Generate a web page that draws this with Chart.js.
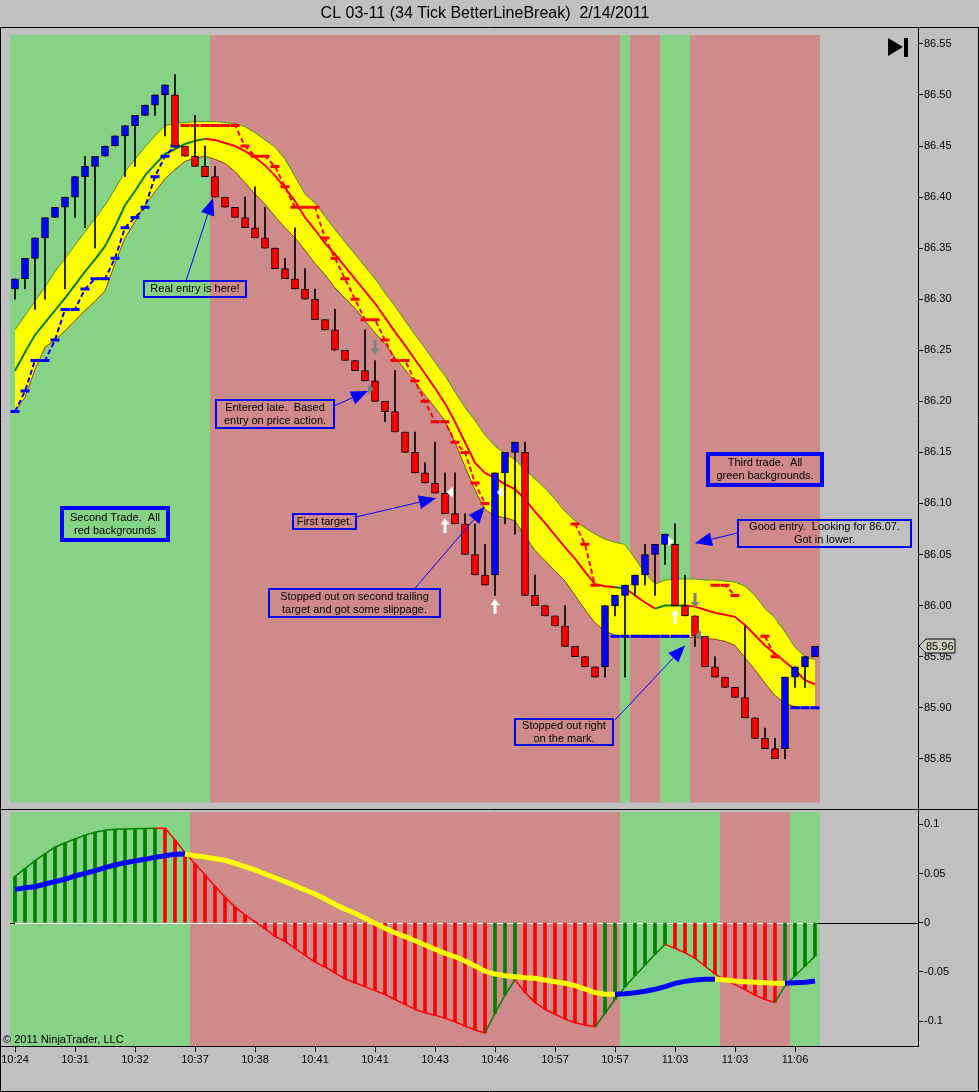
<!DOCTYPE html>
<html>
<head>
<meta charset="utf-8">
<script src="https://cdn.jsdelivr.net/npm/chart.js@4.4.1/dist/chart.umd.min.js"></script>
<style>
  html, body { margin: 0; padding: 0; background: #c0c0c0; }
  #wrap { position: relative; width: 979px; height: 1092px; }
  #priceChart { position: absolute; left: 0; top: 0; width: 979px; height: 810px; }
  #oscChart { position: absolute; left: 0; top: 810px; width: 979px; height: 282px; }
</style>
</head>
<body>
<div id="wrap">
  <canvas id="priceChart" width="979" height="810"></canvas>
  <canvas id="oscChart" width="979" height="282"></canvas>
</div>
<script>
// ---- data (one entry per line-break bar, 81 bars) ----
const timeLabels = ['10:24','10:31','10:32','10:37','10:38','10:41','10:41','10:43','10:46','10:57','10:57','11:03','11:03','11:06'];
const priceTicks = [86.55,86.50,86.45,86.40,86.35,86.30,86.25,86.20,86.15,86.10,86.05,86.00,85.95,85.90,85.85];
const oscTicks = [0.1, 0.05, 0, -0.05, -0.1];

const opens = [86.31,86.32,86.34,86.36,86.38,86.39,86.40,86.42,86.43,86.44,86.45,86.46,86.47,86.48,86.49,86.50,
  86.50,86.45,86.44,86.43,86.42,86.40,86.39,86.38,86.37,86.36,86.35,86.33,86.32,86.31,86.30,86.28,86.27,86.25,86.24,
  86.23,86.22,86.20,86.19,86.17,86.15,86.13,86.12,86.11,86.09,86.08,86.05,86.03,86.03,86.13,86.15,86.15,86.01,86.00,
  85.99,85.98,85.96,85.95,85.94,85.94,86.00,86.01,86.02,86.03,86.05,86.06,86.06,86.00,85.99,85.97,85.94,85.93,85.92,
  85.91,85.89,85.87,85.86,85.86,85.93,85.94,85.95];
const highs = [86.32,86.34,86.36,86.38,86.39,86.40,86.42,86.44,86.44,86.45,86.46,86.47,86.48,86.49,86.50,86.51,
  86.52,86.45,86.48,86.45,86.43,86.40,86.39,86.40,86.41,86.39,86.35,86.34,86.37,86.33,86.31,86.28,86.29,86.25,86.24,
  86.27,86.24,86.20,86.23,86.17,86.17,86.14,86.16,86.13,86.13,86.09,86.08,86.06,86.13,86.15,86.16,86.16,86.03,86.00,
  85.99,86.00,85.96,85.95,85.94,86.00,86.01,86.02,86.03,86.06,86.06,86.07,86.08,86.03,85.99,85.97,85.95,85.93,85.92,
  85.98,85.89,85.88,85.87,85.93,85.94,85.95,85.96];
const lows = [86.30,86.31,86.29,86.30,86.38,86.31,86.38,86.37,86.35,86.44,86.45,86.42,86.43,86.48,86.48,86.46,
  86.45,86.44,86.43,86.42,86.40,86.39,86.38,86.37,86.36,86.35,86.33,86.32,86.31,86.30,86.28,86.27,86.25,86.24,86.23,
  86.22,86.20,86.18,86.17,86.15,86.13,86.12,86.11,86.09,86.08,86.05,86.03,86.02,86.01,86.08,86.07,86.01,86.00,85.99,
  85.98,85.96,85.95,85.94,85.93,85.93,85.99,85.93,86.01,86.02,86.01,86.04,86.00,85.99,85.96,85.94,85.93,85.92,85.91,
  85.89,85.87,85.86,85.85,85.85,85.92,85.92,85.95];
const closes = [86.32,86.34,86.36,86.38,86.39,86.40,86.42,86.43,86.44,86.45,86.46,86.47,86.48,86.49,86.50,86.51,
  86.45,86.44,86.43,86.42,86.40,86.39,86.38,86.37,86.36,86.35,86.33,86.32,86.31,86.30,86.28,86.27,86.25,86.24,86.23,
  86.22,86.20,86.19,86.17,86.15,86.13,86.12,86.11,86.09,86.08,86.05,86.03,86.02,86.13,86.15,86.16,86.01,86.00,85.99,
  85.98,85.96,85.95,85.94,85.93,86.00,86.01,86.02,86.03,86.05,86.06,86.07,86.00,85.99,85.97,85.94,85.93,85.92,85.91,
  85.89,85.87,85.86,85.85,85.93,85.94,85.95,85.96];

const bandUpper = [86.270,86.284,86.298,86.312,86.327,86.340,86.353,86.366,86.379,86.392,86.408,86.425,86.437,86.449,
  86.460,86.470,86.472,86.473,86.474,86.474,86.474,86.473,86.472,86.469,86.463,86.456,86.449,86.437,86.420,86.403,
  86.394,86.381,86.368,86.356,86.344,86.332,86.320,86.306,86.293,86.279,86.265,86.252,86.238,86.225,86.209,86.194,
  86.181,86.167,86.156,86.149,86.143,86.133,86.124,86.115,86.104,86.092,86.083,86.076,86.070,86.065,86.062,86.060,
  86.046,86.032,86.021,86.025,86.026,86.026,86.026,86.025,86.025,86.024,86.023,86.019,86.010,85.997,85.988,85.974,
  85.959,85.950,85.947];
const bandLower = [86.190,86.204,86.231,86.253,86.260,86.269,86.279,86.289,86.298,86.308,86.335,86.360,86.376,86.392,
  86.405,86.418,86.427,86.435,86.438,86.440,86.437,86.433,86.425,86.414,86.403,86.393,86.381,86.370,86.360,86.348,
  86.335,86.324,86.311,86.301,86.291,86.279,86.267,86.256,86.243,86.231,86.219,86.206,86.194,86.181,86.160,86.136,
  86.113,86.094,86.088,86.086,86.083,86.068,86.054,86.044,86.034,86.024,86.010,85.996,85.983,85.975,85.971,85.969,
  85.969,85.969,85.969,85.969,85.969,85.969,85.969,85.968,85.967,85.965,85.961,85.949,85.937,85.924,85.912,85.904,
  85.901,85.900,85.900];
const middle = [86.230,86.248,86.265,86.277,86.289,86.301,86.314,86.327,86.339,86.352,86.371,86.392,86.406,86.421,
  86.432,86.442,86.447,86.452,86.455,86.457,86.456,86.453,86.450,86.445,86.439,86.431,86.421,86.409,86.396,86.380,
  86.368,86.355,86.344,86.332,86.320,86.308,86.296,86.282,86.268,86.255,86.241,86.227,86.213,86.198,86.180,86.160,
  86.140,86.130,86.125,86.119,86.114,86.104,86.092,86.081,86.069,86.057,86.046,86.033,86.021,86.019,86.018,86.017,
  86.010,86.003,85.997,86.000,86.000,86.000,85.999,85.996,85.993,85.991,85.989,85.981,85.971,85.961,85.953,85.945,
  85.937,85.927,85.923];
const N = null;
const stopLong = [86.19,86.21,86.24,86.24,86.26,86.29,86.29,86.31,86.32,86.32,86.34,86.37,86.38,86.39,86.42,86.44,
  86.45,N,N,N,N,N,N,N,N,N,N,N,N,N,N,N,N,N,N,N,N,N,N,N,N,N,N,N,N,N,N,N,N,N,N,N,N,N,N,N,N,N,N,N,
  85.97,85.97,85.97,85.97,85.97,85.97,85.97,85.97,N,N,N,N,N,N,N,N,N,N,85.90,85.90,85.90];
const stopShort = [N,N,N,N,N,N,N,N,N,N,N,N,N,N,N,N,N,
  86.47,86.47,86.47,86.47,86.47,86.47,86.45,86.44,86.44,86.43,86.41,86.39,86.39,86.39,86.36,86.34,86.32,86.30,86.28,
  86.28,86.26,86.24,86.24,86.22,86.20,86.18,86.18,86.16,86.15,86.12,86.10,N,N,N,N,N,N,N,N,86.08,86.06,86.02,
  N,N,N,N,N,N,N,N,N,N,N,86.02,86.02,86.01,N,N,85.97,85.95,N,N,N,N];

// trend state zones (bar ranges) for the coloured backgrounds
const priceZones = [[-0.5,19.5,'up'],[19.5,60.5,'dn'],[60.5,61.5,'up'],[61.5,64.5,'dn'],[64.5,67.5,'up'],[67.5,80.5,'dn']];
const oscZones = [[-0.5,17.5,'up'],[17.5,60.5,'dn'],[60.5,70.5,'up'],[70.5,77.5,'dn'],[77.5,80.5,'up']];

// execution markers
const targetArrows = [{x:43,y:86.078},{x:48,y:85.999},{x:66,y:85.989}];
const stopArrows = [{x:36,y:86.253},{x:68,y:86.005}];
const fillsLeftWhite = [{x:43.45,y:86.111},{x:48.45,y:86.111}];
const fillsRightWhite = [{x:65.6,y:86.063}];
const fillsRightGray = [{x:35.6,y:86.212}];
const fillsLeftGray = [{x:68.3,y:85.971}];

const histValues = [0.047,0.055,0.063,0.070,0.077,0.081,0.085,0.089,0.092,0.094,0.095,0.0953,0.0956,0.0958,0.096,
  0.0959,0.084,0.071,0.060,0.0485,0.037,0.026,0.016,0.008,0.001,-0.006,-0.014,-0.019,-0.026,-0.033,-0.040,-0.045,
  -0.051,-0.057,-0.061,-0.065,-0.069,-0.073,-0.078,-0.083,-0.088,-0.0915,-0.094,-0.097,-0.1006,-0.105,-0.109,-0.112,
  -0.092,-0.0735,-0.058,-0.071,-0.081,-0.088,-0.093,-0.098,-0.1016,-0.104,-0.1057,-0.092,-0.078,-0.065,-0.054,-0.043,
  -0.032,-0.022,-0.026,-0.0305,-0.036,-0.044,-0.052,-0.058,-0.063,-0.068,-0.0735,-0.078,-0.081,-0.064,-0.054,-0.044,-0.034];
const signalValues = [0.0339,0.0356,0.0366,0.0393,0.0417,0.0441,0.0475,0.0502,0.0528,0.0559,0.0586,0.0610,0.0627,
  0.0644,0.0664,0.0681,0.0695,0.0698,0.0681,0.0668,0.0650,0.0634,0.0603,0.0569,0.0536,0.0495,0.0457,0.0417,0.0376,
  0.0332,0.0292,0.0241,0.0187,0.0136,0.0096,0.0045,-0.0006,-0.0057,-0.0102,-0.0142,-0.0183,-0.0227,-0.0270,-0.0311,
  -0.0346,-0.0389,-0.0440,-0.0493,-0.0522,-0.0539,-0.0549,-0.0559,-0.0565,-0.0582,-0.0600,-0.0616,-0.0640,-0.0674,
  -0.0711,-0.0728,-0.0728,-0.0721,-0.0711,-0.0697,-0.0677,-0.0650,-0.0616,-0.0596,-0.0582,-0.0575,-0.0575,-0.0582,
  -0.0592,-0.0600,-0.0606,-0.0610,-0.0616,-0.0616,-0.0610,-0.0606,-0.0592];

// text notes drawn on the price panel (anchors in bar / price units, box size in px)
const notes = [
  {lines:['Real entry is here!'], at:[18.0,86.310], size:[104,18], from:[17.1,86.318], to:[19.8,86.399]},
  {lines:['Entered late.  Based','entry on price action.'], at:[26.0,86.188], size:[120,30], from:[32.0,86.196], to:[35.3,86.210]},
  {lines:['First target.'], at:[30.95,86.082], size:[65,17], from:[34.2,86.087], to:[42.1,86.105]},
  {lines:['Stopped out on second trailing','target and got some slippage.'], at:[33.95,86.003], size:[173,30], from:[40.0,86.017], to:[47.0,86.097]},
  {lines:['Second Trade.  All','red backgrounds'], at:[10.0,86.080], size:[110,36], thick:true},
  {lines:['Third trade.  All','green backgrounds.'], at:[75.0,86.133], size:[118,35], thick:true},
  {lines:['Good entry.  Looking for 86.07.','Got in lower.'], at:[80.95,86.071], size:[175,29], from:[72.2,86.071], to:[68.0,86.061]},
  {lines:['Stopped out right','on the mark.'], at:[54.9,85.876], size:[100,28], from:[60.0,85.888], to:[67.0,85.961]}
];

// ---- styling ----
const FONT = '"Liberation Sans", Arial, sans-serif';
Chart.defaults.font.family = FONT;
Chart.defaults.font.size = 11;
Chart.defaults.color = '#000';
const GREEN_BG = '#86d386';
const RED_BG = '#cf8a8a';
const UP_GREEN = '#008000';

const inZone = (zones, v) => zones.some(z => z[2] === 'up' && v > z[0] && v < z[1]);

function makeIcon(w, h, draw) {
  const c = document.createElement('canvas');
  c.width = w; c.height = h;
  draw(c.getContext('2d'));
  return c;
}
const upArrowIcon = makeIcon(9, 15, g => {
  g.fillStyle = '#fff';
  g.beginPath(); g.moveTo(4.5,0); g.lineTo(9,6); g.lineTo(6,6); g.lineTo(6,15); g.lineTo(3,15); g.lineTo(3,6); g.lineTo(0,6);
  g.closePath(); g.fill();
});
const downArrowIcon = makeIcon(9, 15, g => {
  g.fillStyle = '#7f7f7f';
  g.beginPath(); g.moveTo(3,0); g.lineTo(6,0); g.lineTo(6,9); g.lineTo(9,9); g.lineTo(4.5,15); g.lineTo(0,9); g.lineTo(3,9);
  g.closePath(); g.fill();
});
function triIcon(color, left) {
  return makeIcon(6, 10, g => {
    g.fillStyle = color;
    g.beginPath();
    if (left) { g.moveTo(6,0); g.lineTo(0,5); g.lineTo(6,10); }
    else { g.moveTo(0,0); g.lineTo(6,5); g.lineTo(0,10); }
    g.closePath(); g.fill();
  });
}

const idx = opens.map((_, i) => i);
const pts = arr => arr.map((v, i) => ({x: i, y: v}));

// ---- plugins ----
const panelBg = {
  id: 'panelBg',
  beforeDatasetsDraw(chart, args, opts) {
    const {ctx, chartArea: a, scales: {x, y}} = chart;
    ctx.save();
    opts.zones.forEach(z => {
      const x0 = Math.round(x.getPixelForValue(z[0]));
      const x1 = Math.round(x.getPixelForValue(z[1]));
      ctx.fillStyle = z[2] === 'up' ? GREEN_BG : RED_BG;
      ctx.fillRect(x0, a.top, x1 - x0, a.bottom - a.top);
    });
    if (opts.zeroLine) {
      const y0 = Math.round(y.getPixelForValue(0)) + 0.5;
      ctx.strokeStyle = '#000'; ctx.lineWidth = 1;
      ctx.beginPath(); ctx.moveTo(a.left, y0); ctx.lineTo(a.right, y0); ctx.stroke();
      ctx.strokeStyle = '#fff';
      ctx.beginPath(); ctx.moveTo(x.getPixelForValue(0), y0); ctx.lineTo(x.getPixelForValue(80), y0); ctx.stroke();
    }
    ctx.restore();
  }
};

const priceDecor = {
  id: 'priceDecor',
  afterDatasetsDraw(chart) {
    const {ctx, scales: {x, y}} = chart;
    ctx.save();
    ctx.font = '11px ' + FONT;
    ctx.textAlign = 'center';
    ctx.textBaseline = 'middle';
    notes.forEach(n => {
      const lh = 13;
      const [w, h] = n.size;
      const cx = x.getPixelForValue(n.at[0]), cy = y.getPixelForValue(n.at[1]);
      const bx = Math.round(cx - w / 2), by = Math.round(cy - h / 2);
      if (n.from) {
        const fx = x.getPixelForValue(n.from[0]), fy = y.getPixelForValue(n.from[1]);
        const tx = x.getPixelForValue(n.to[0]), ty = y.getPixelForValue(n.to[1]);
        const ang = Math.atan2(ty - fy, tx - fx);
        const len = 17, hw = 7;
        const bxp = tx - Math.cos(ang) * len, byp = ty - Math.sin(ang) * len;
        ctx.strokeStyle = '#0000ff'; ctx.lineWidth = 1;
        ctx.beginPath(); ctx.moveTo(fx, fy); ctx.lineTo(bxp, byp); ctx.stroke();
        ctx.fillStyle = '#0000ff';
        ctx.beginPath();
        ctx.moveTo(tx, ty);
        ctx.lineTo(bxp + Math.sin(ang) * hw, byp - Math.cos(ang) * hw);
        ctx.lineTo(bxp - Math.sin(ang) * hw, byp + Math.cos(ang) * hw);
        ctx.closePath(); ctx.fill();
      }
      const bw = n.thick ? 4 : 2;
      ctx.strokeStyle = '#0000ff'; ctx.lineWidth = bw;
      ctx.strokeRect(bx + bw / 2, by + bw / 2, w - bw, h - bw);
      ctx.fillStyle = '#000';
      n.lines.forEach((l, k) => {
        ctx.fillText(l, bx + w / 2, by + h / 2 + (k - (n.lines.length - 1) / 2) * lh);
      });
    });
    ctx.restore();
  },
  afterDraw(chart) {
    const {ctx, width, height, scales: {y}} = chart;
    ctx.save();
    // title
    ctx.fillStyle = '#000';
    ctx.font = '16px ' + FONT;
    ctx.textAlign = 'center'; ctx.textBaseline = 'middle';
    ctx.fillText('CL 03-11 (34 Tick BetterLineBreak)  2/14/2011', 485, 14);
    // frame
    ctx.strokeStyle = '#000'; ctx.lineWidth = 1;
    ctx.beginPath();
    ctx.moveTo(0, 27.5); ctx.lineTo(width, 27.5);
    ctx.moveTo(0.5, 27); ctx.lineTo(0.5, height);
    ctx.moveTo(width - 0.5, 27); ctx.lineTo(width - 0.5, height);
    ctx.moveTo(918.5, 27); ctx.lineTo(918.5, height);
    ctx.moveTo(0, height - 0.5); ctx.lineTo(width, height - 0.5);
    ctx.stroke();
    // go-to-end glyph
    ctx.fillStyle = '#000';
    ctx.beginPath(); ctx.moveTo(888, 38); ctx.lineTo(903, 47); ctx.lineTo(888, 56); ctx.closePath(); ctx.fill();
    ctx.fillRect(904, 38, 4, 19);
    // last price tag
    const py = Math.round(y.getPixelForValue(closes[closes.length - 1]));
    ctx.fillStyle = '#cfcdbd';
    ctx.beginPath();
    ctx.moveTo(919, py); ctx.lineTo(926, py - 7); ctx.lineTo(955, py - 7); ctx.lineTo(955, py + 7); ctx.lineTo(926, py + 7);
    ctx.closePath(); ctx.fill();
    ctx.strokeStyle = '#000'; ctx.stroke();
    ctx.fillStyle = '#000';
    ctx.font = '11px ' + FONT;
    ctx.textAlign = 'left';
    ctx.fillText(closes[closes.length - 1].toFixed(2), 926, py + 0.5);
    ctx.restore();
  }
};

const oscDecor = {
  id: 'oscDecor',
  afterDraw(chart) {
    const {ctx, width, height, chartArea: a} = chart;
    ctx.save();
    ctx.strokeStyle = '#000'; ctx.lineWidth = 1;
    ctx.beginPath();
    ctx.moveTo(0.5, 0); ctx.lineTo(0.5, height);
    ctx.moveTo(width - 0.5, 0); ctx.lineTo(width - 0.5, height);
    ctx.moveTo(0, height - 0.5); ctx.lineTo(width, height - 0.5);
    ctx.moveTo(918.5, 0); ctx.lineTo(918.5, a.bottom);
    ctx.moveTo(0, a.bottom + 0.5); ctx.lineTo(919, a.bottom + 0.5);
    ctx.stroke();
    ctx.fillStyle = '#000';
    ctx.font = '11px ' + FONT;
    ctx.textAlign = 'left'; ctx.textBaseline = 'middle';
    ctx.fillText('\u00a9 2011 NinjaTrader, LLC', 3, a.bottom - 6);
    ctx.restore();
  }
};

const hiddenX = {type: 'linear', min: -0.5, max: 90.3, display: false, offset: false, grid: {offset: false}};
function rightAxis(ticks, min, max, fmt) {
  return {
    type: 'linear', position: 'right', min, max,
    afterBuildTicks: s => { s.ticks = ticks.map(v => ({value: v})); },
    afterFit: s => { s.width = 61; s.paddingTop = 0; s.paddingBottom = 0; },
    ticks: {callback: fmt, autoSkip: false, padding: 1, color: '#000', font: {size: 11}},
    grid: {drawOnChartArea: false, drawTicks: true, tickLength: 5, color: '#000'},
    border: {display: false}
  };
}

// ---- price panel ----
new Chart(document.getElementById('priceChart'), {
  type: 'bar',
  data: {
    datasets: [
      {type: 'line', data: targetArrows, showLine: false, pointStyle: upArrowIcon, order: 0},
      {type: 'line', data: stopArrows, showLine: false, pointStyle: downArrowIcon, order: 0},
      {type: 'line', data: fillsLeftWhite, showLine: false, pointStyle: triIcon('#fff', true), order: 0},
      {type: 'line', data: fillsRightWhite, showLine: false, pointStyle: triIcon('#fff', false), order: 0},
      {type: 'line', data: fillsRightGray, showLine: false, pointStyle: triIcon('#7f7f7f', false), order: 0},
      {type: 'line', data: fillsLeftGray, showLine: false, pointStyle: triIcon('#7f7f7f', true), order: 0},
      {
        data: idx.map(i => ({x: i, y: [opens[i], closes[i]]})),
        backgroundColor: idx.map(i => closes[i] >= opens[i] ? '#0000ff' : '#ff0000'),
        borderColor: '#000', borderWidth: 1, borderSkipped: false,
        barThickness: 7, grouped: false, order: 1
      },
      {
        data: idx.map(i => ({x: i, y: [lows[i], highs[i]]})),
        backgroundColor: '#000', borderWidth: 0, barThickness: 1, grouped: false, order: 2
      },
      {
        type: 'line', data: pts(stopLong), borderColor: '#0000ff', borderWidth: 2, borderDash: [5, 3],
        pointStyle: 'line', pointRadius: 4.5, pointBorderWidth: 3, pointBorderColor: '#0000ff', spanGaps: false, order: 3
      },
      {
        type: 'line', data: pts(stopShort), borderColor: '#ff0000', borderWidth: 2, borderDash: [5, 3],
        pointStyle: 'line', pointRadius: 4.5, pointBorderWidth: 3, pointBorderColor: '#ff0000', spanGaps: false, order: 3
      },
      {
        type: 'line', data: pts(middle), borderWidth: 2, pointRadius: 0, order: 4,
        segment: {borderColor: c => inZone(priceZones, c.p1DataIndex) ? UP_GREEN : '#ff0000'}
      },
      {
        type: 'line', data: pts(bandUpper), borderColor: '#4f9a2c', borderWidth: 1, pointRadius: 0,
        fill: '+1', backgroundColor: '#ffff00', order: 6
      },
      {
        type: 'line', data: pts(bandLower), borderColor: '#94401c', borderWidth: 1, pointRadius: 0, order: 5
      }
    ]
  },
  options: {
    responsive: false, animation: false, devicePixelRatio: 1,
    layout: {padding: {left: 10, top: 35, right: 0, bottom: 2}},
    scales: {
      x: hiddenX,
      y: rightAxis(priceTicks, 85.8072, 86.5587, v => v.toFixed(2))
    },
    plugins: {
      legend: {display: false}, tooltip: {enabled: false},
      panelBg: {zones: priceZones, zeroLine: false}
    }
  },
  plugins: [panelBg, priceDecor]
});

// ---- oscillator panel ----
new Chart(document.getElementById('oscChart'), {
  type: 'bar',
  data: {
    datasets: [
      {
        type: 'line', data: pts(signalValues), borderWidth: 5, pointRadius: 0, order: 0,
        segment: {borderColor: c => inZone(oscZones, c.p1DataIndex) ? '#0000ff' : '#ffff00'}
      },
      {
        type: 'line', data: pts(histValues), borderWidth: 1.5, pointRadius: 0, order: 1,
        segment: {borderColor: c => histValues[c.p1DataIndex] > histValues[c.p0DataIndex] ? UP_GREEN : '#ff0000'}
      },
      {
        data: pts(histValues),
        backgroundColor: idx.map(i => i === 0 || histValues[i] > histValues[i - 1] ? UP_GREEN : '#ff0000'),
        borderWidth: 0, barThickness: 3, grouped: false, order: 2
      }
    ]
  },
  options: {
    responsive: false, animation: false, devicePixelRatio: 1,
    layout: {padding: {left: 10, top: 2, right: 0, bottom: 0}},
    scales: {
      x: {
        type: 'linear', min: -0.5, max: 90.3, position: 'bottom', offset: false,
        afterBuildTicks: s => { s.ticks = timeLabels.map((t, k) => ({value: k * 6})); },
        afterFit: s => { s.height = 46; s.paddingLeft = 0; s.paddingRight = 0; },
        ticks: {callback: (v, i) => timeLabels[i], autoSkip: false, maxRotation: 0, padding: 1, color: '#000', font: {size: 11}},
        grid: {drawOnChartArea: false, drawTicks: true, tickLength: 6, color: '#000', offset: false},
        border: {display: false}
      },
      y: rightAxis(oscTicks, -0.1253, 0.1125, v => v === 0 ? '0' : String(v))
    },
    plugins: {
      legend: {display: false}, tooltip: {enabled: false},
      panelBg: {zones: oscZones, zeroLine: true}
    }
  },
  plugins: [panelBg, oscDecor]
});
</script>
</body>
</html>
